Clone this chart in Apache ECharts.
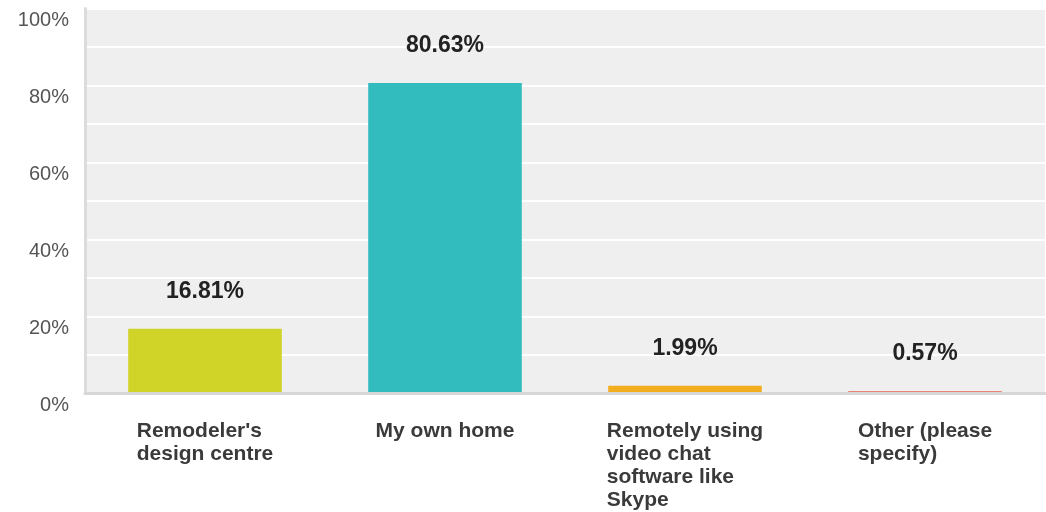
<!DOCTYPE html>
<html>
<head>
<meta charset="utf-8">
<script src="https://cdn.jsdelivr.net/npm/echarts@6/dist/echarts.min.js"></script>
<style>
  html, body { margin: 0; padding: 0; background: #ffffff; }
  #chart { width: 1046px; height: 512px; }
</style>
</head>
<body>
<div id="chart"></div>
<script>
// Survey answers: where the design consultation took place
const categories = [
  "Remodeler's\ndesign centre",
  "My own home",
  "Remotely using\nvideo chat\nsoftware like\nSkype",
  "Other (please\nspecify)"
];
const percentages = [16.81, 80.63, 1.99, 0.57];
const barColors = ['#d0d428', '#33bcbe', '#f3ae20', '#e8604c'];
const yTicks = [0, 20, 40, 60, 80, 100];

const chart = echarts.init(document.getElementById('chart'), null, { renderer: 'canvas' });

chart.setOption({
  animation: false,
  textStyle: { fontFamily: '"Liberation Sans", Arial, sans-serif' },
  grid: {
    left: 85,
    right: 1,
    top: 8.5,
    bottom: 118.5,
    show: true,
    backgroundColor: '#efefef',
    borderWidth: 0,
    containLabel: false
  },
  xAxis: {
    type: 'category',
    data: categories,
    z: 5,
    axisLine: { show: true, lineStyle: { color: '#d8d8d8', width: 3 } },
    axisTick: { show: false },
    axisLabel: {
      interval: 0,
      margin: 26,
      formatter: function (value) {
        // keep each wrapped line left-aligned inside a centred block
        return value.split('\n').map(function (l) { return '{a|' + l + '}'; }).join('\n');
      },
      rich: {
        a: {
          align: 'left',
          fontSize: 21,
          fontWeight: 'bold',
          lineHeight: 23,
          color: '#3a3a3a',
          fontFamily: '"Liberation Sans", Arial, sans-serif'
        }
      }
    }
  },
  yAxis: {
    type: 'value',
    min: 0,
    max: 100,
    interval: 10,
    axisLine: { show: true, lineStyle: { color: '#dcdcdc', width: 3 } },
    axisTick: { show: false },
    splitLine: { show: true, lineStyle: { color: '#ffffff', width: 2 } },
    axisLabel: {
      margin: 16,
      fontSize: 20,
      color: '#555555',
      verticalAlign: 'top',
      padding: [2, 0, 0, 0],
      formatter: function (v) {
        return yTicks.indexOf(v) >= 0 ? v + '%' : '';
      }
    }
  },
  series: [{
    type: 'bar',
    data: percentages.map(function (v, i) {
      return { value: v, itemStyle: { color: barColors[i] } };
    }),
    barCategoryGap: '36%',
    label: {
      show: true,
      position: 'top',
      distance: 26,
      fontSize: 23,
      fontWeight: 'bold',
      color: '#222222',
      formatter: function (p) { return p.value.toFixed(2) + '%'; }
    }
  }]
});
</script>
</body>
</html>
